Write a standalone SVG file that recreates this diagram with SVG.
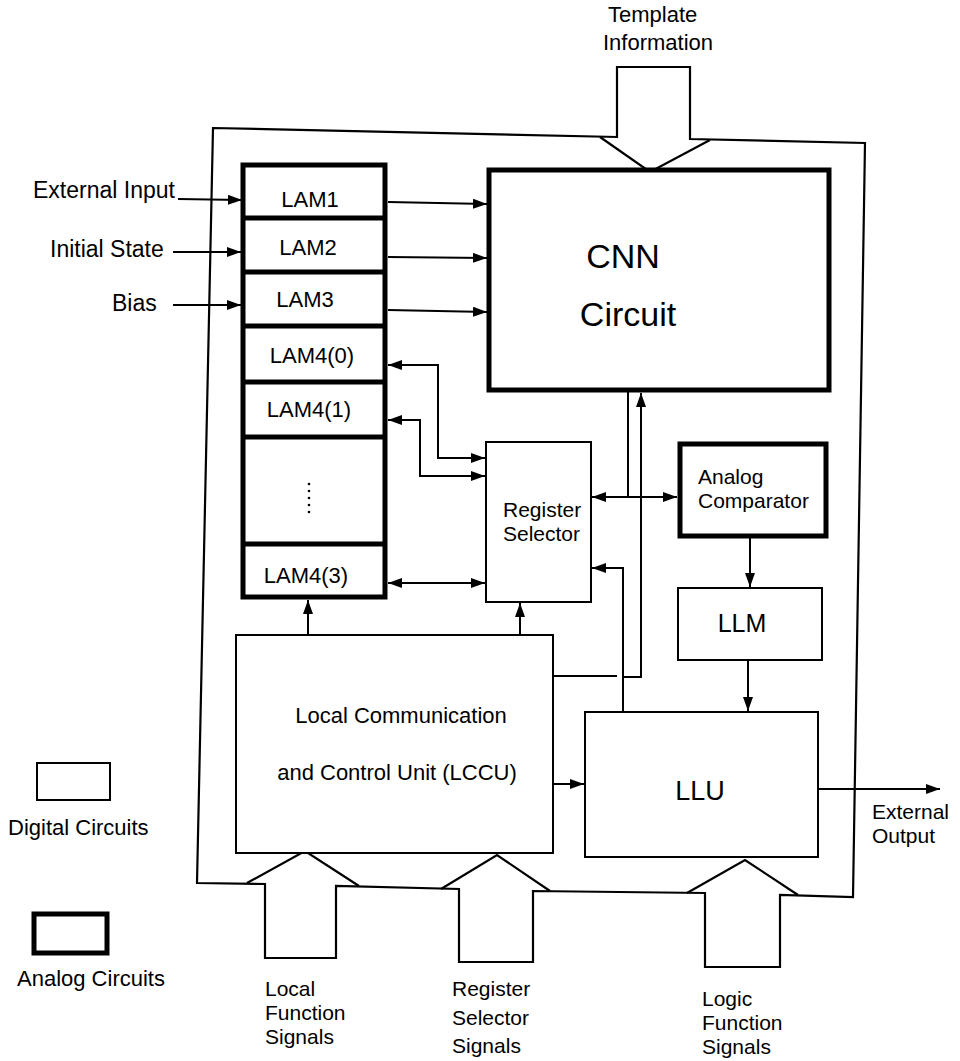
<svg xmlns="http://www.w3.org/2000/svg" width="960" height="1061" viewBox="0 0 960 1061">
<style>
text{font-family:"Liberation Sans",Arial,Helvetica,sans-serif;fill:#000}
.t{font-size:22px}
.s{font-size:21px}
.thin{fill:#fff;stroke:#000;stroke-width:2}
.thick{fill:#fff;stroke:#000;stroke-width:5}
.ln{fill:none;stroke:#000;stroke-width:2}
.b{fill:none;stroke:#000;stroke-width:2.2;stroke-linejoin:miter}
</style>
<defs>
<marker id="ah" viewBox="0 0 14 10" refX="14" refY="5" markerWidth="14" markerHeight="10" markerUnits="userSpaceOnUse" orient="auto-start-reverse">
<path d="M0,0 L14,5 L0,10 Z" fill="#000"/>
</marker>
</defs>
<rect width="960" height="1061" fill="#fff"/>

<g id="boundary">
<path class="b" d="M213,128 L617,137 L617,67 L690,67 L690,139 L865,143 L853,897 L780,895 L780,967 L705,967 L705,893 L533,891 L533,962 L459,962 L459,889 L336,886 L336,958 L265,958 L265,884 L197,883 Z"/>
<path class="b" d="M600,137 L650,172 L710,140"/>
<path class="b" d="M687,893 L745,860 L798,895"/>
<path class="b" d="M441,889 L497,855 L550,891"/>
<path class="b" d="M247,883 L305,851 L359,886"/>
</g>

<g id="template-info">
<text class="t" x="608" y="22">Template</text>
<text class="t" x="603" y="50">Information</text>
</g>

<g id="lam-stack">
<rect class="thick" x="243" y="165" width="142" height="432"/>
<path fill="none" stroke="#000" stroke-width="5" d="M243,218 H385 M243,272 H385 M243,326 H385 M243,382 H385 M243,437 H385 M243,544 H385"/>
<text class="t" x="310" y="207" text-anchor="middle">LAM1</text>
<text class="t" x="308" y="255" text-anchor="middle">LAM2</text>
<text class="t" x="305" y="307" text-anchor="middle">LAM3</text>
<text class="t" x="312" y="363" text-anchor="middle">LAM4(0)</text>
<text class="t" x="309" y="417" text-anchor="middle">LAM4(1)</text>
<g fill="#000"><circle cx="309" cy="484" r="1.3"/><circle cx="309" cy="491" r="1.3"/><circle cx="309" cy="498" r="1.3"/><circle cx="309" cy="505" r="1.3"/><circle cx="309" cy="512" r="1.3"/></g>
<text class="t" x="306" y="583" text-anchor="middle">LAM4(3)</text>
</g>

<g id="cnn">
<rect class="thick" x="489" y="170" width="340" height="220"/>
<text x="623" y="268" font-size="34" text-anchor="middle">CNN</text>
<text x="628" y="326" font-size="34" text-anchor="middle">Circuit</text>
</g>

<g id="register-selector">
<rect class="thin" x="486" y="442" width="105" height="160"/>
<text class="s" x="503" y="517">Register</text>
<text class="s" x="503" y="541">Selector</text>
</g>

<g id="analog-comparator">
<rect class="thick" x="680" y="444" width="146" height="92"/>
<text class="s" x="698" y="484">Analog</text>
<text class="s" x="698" y="508">Comparator</text>
</g>

<g id="llm">
<rect class="thin" x="678" y="588" width="144" height="72"/>
<text x="742" y="632" font-size="25" text-anchor="middle">LLM</text>
</g>

<g id="llu">
<rect class="thin" x="585" y="712" width="233" height="145"/>
<text x="700" y="800" font-size="27" text-anchor="middle">LLU</text>
</g>

<g id="lccu">
<rect class="thin" x="236" y="635" width="317" height="218"/>
<text class="t" x="401" y="723" text-anchor="middle">Local Communication</text>
<text class="t" x="397" y="780" text-anchor="middle">and Control Unit (LCCU)</text>
</g>

<g id="inputs">
<text x="33" y="198" font-size="23">External Input</text>
<text x="50" y="257" font-size="23">Initial State</text>
<text x="112" y="311" font-size="23">Bias</text>
</g>

<g id="external-output">
<text class="s" x="872" y="819">External</text>
<text class="s" x="872" y="843">Output</text>
</g>

<g id="signals">
<text class="s" x="265" y="996">Local</text>
<text class="s" x="265" y="1020">Function</text>
<text class="s" x="265" y="1044">Signals</text>
<text class="s" x="452" y="996">Register</text>
<text class="s" x="452" y="1025">Selector</text>
<text class="s" x="452" y="1053">Signals</text>
<text class="s" x="702" y="1006">Logic</text>
<text class="s" x="702" y="1030">Function</text>
<text class="s" x="702" y="1054">Signals</text>
</g>

<g id="legend">
<rect class="thin" x="37" y="763" width="73" height="37"/>
<text class="t" x="8" y="835">Digital Circuits</text>
<rect class="thick" x="34" y="914" width="73" height="39"/>
<text class="t" x="17" y="986">Analog Circuits</text>
</g>

<g id="connectors">
<path class="ln" marker-end="url(#ah)" d="M178,199 L242,200"/>
<path class="ln" marker-end="url(#ah)" d="M173,252 L241,252"/>
<path class="ln" marker-end="url(#ah)" d="M173,305 L241,305"/>
<path class="ln" marker-end="url(#ah)" d="M388,202 L487,204"/>
<path class="ln" marker-end="url(#ah)" d="M388,257 L487,258"/>
<path class="ln" marker-end="url(#ah)" d="M388,310 L487,312"/>
<path class="ln" marker-start="url(#ah)" marker-end="url(#ah)" d="M388,365 L438,365 L438,458 L485,458"/>
<path class="ln" marker-start="url(#ah)" marker-end="url(#ah)" d="M388,420 L420,420 L420,476 L485,476"/>
<path class="ln" marker-start="url(#ah)" marker-end="url(#ah)" d="M388,583 L485,583"/>
<path class="ln" marker-start="url(#ah)" marker-end="url(#ah)" d="M592,497 L677,497"/>
<path class="ln" d="M628,392 L628,497"/>
<path class="ln" d="M553,676 L617,676"/>
<path class="ln" marker-end="url(#ah)" d="M624,677 L641,677 L641,393"/>
<path class="ln" marker-end="url(#ah)" d="M623,712 L623,568 L592,568"/>
<path class="ln" marker-end="url(#ah)" d="M750,538 L750,587"/>
<path class="ln" marker-end="url(#ah)" d="M748,660 L748,711"/>
<path class="ln" marker-end="url(#ah)" d="M308,635 L308,600"/>
<path class="ln" marker-end="url(#ah)" d="M520,635 L520,603"/>
<path class="ln" marker-end="url(#ah)" d="M553,784 L584,784"/>
<path class="ln" marker-end="url(#ah)" d="M818,789 L940,789"/>
</g>
</svg>
